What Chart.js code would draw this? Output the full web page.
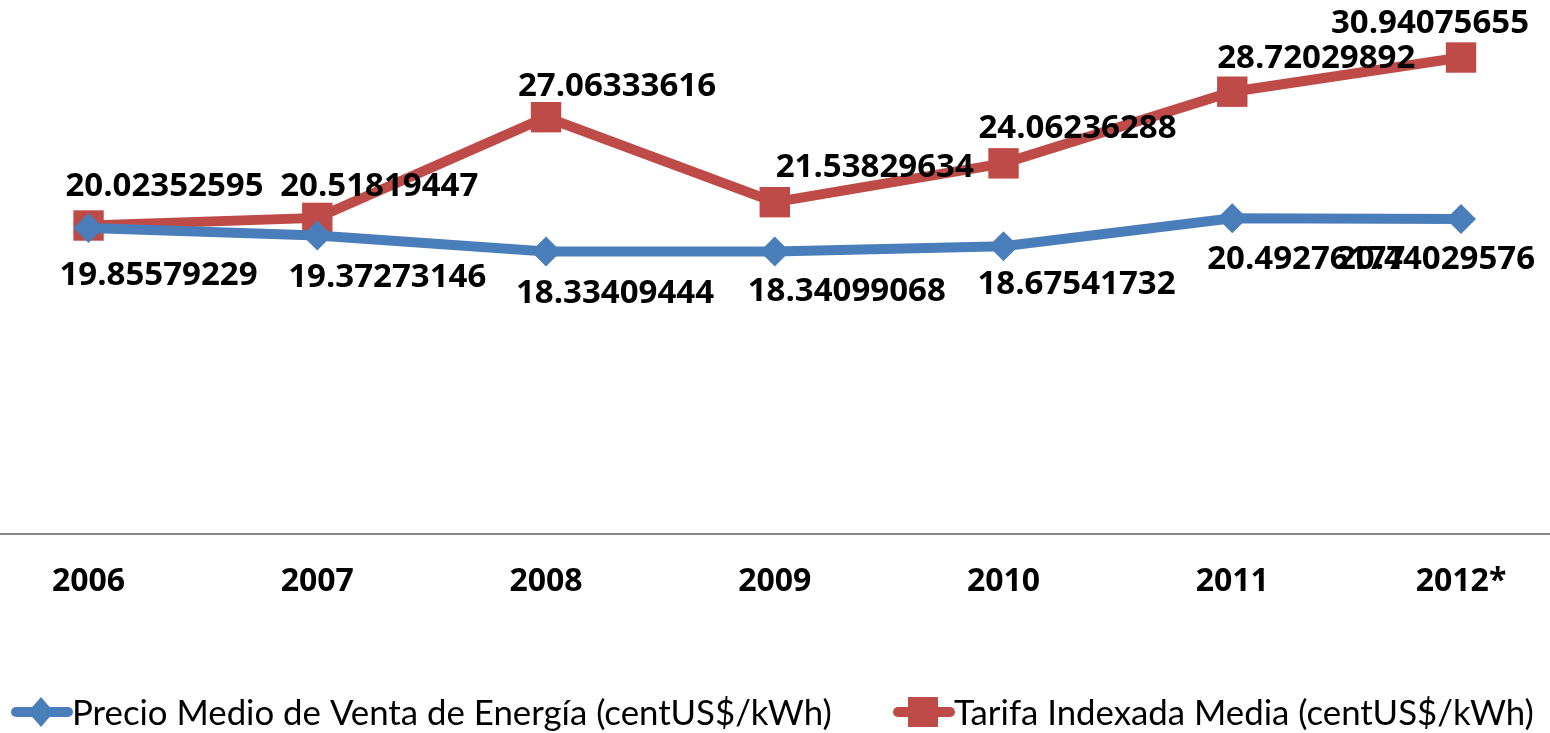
<!DOCTYPE html>
<html>
<head>
<meta charset="utf-8">
<script src="https://cdn.jsdelivr.net/npm/chart.js@4.4.1/dist/chart.umd.min.js"></script>
<style>
    html, body { margin: 0; padding: 0; background: #fff; }
    #wrap { width: 1550px; height: 733px; }
</style>
</head>
<body>
<div id="wrap"><canvas id="grafico"></canvas></div>
<script>
// Datos >>>>>>>>>>>>>>>>>>>>>>>>>>>>>>>>>>>>>>>>>>>>>>>>>>>>>>>>>>>>>>>>>>>>>>>>>>>>>>>
const anios = ["2006", "2007", "2008", "2009", "2010", "2011", "2012*"];
const precioMedio = [19.85579229, 19.37273146, 18.33409444, 18.34099068, 18.67541732, 20.49276177, 20.44029576];
const tarifaIndexada = [20.02352595, 20.51819447, 27.06333616, 21.53829634, 24.06236288, 28.72029892, 30.94075655];
const nombresSeries = [
    "Precio Medio de Venta de Energía (centUS$/kWh)",
    "Tarifa Indexada Media (centUS$/kWh)",
];

const AZUL = "#4A7EBB";
const ROJO = "#BE4B48";
const FUENTE = "Lato, 'Open Sans', sans-serif";
const FUENTE_NEGRITA = "'Open Sans', Lato, sans-serif";

// desplazamiento de cada etiqueta respecto a su punto (px), como en el original
const desplazAzul = [[70, 45], [70, 40], [69, 40], [72, 38], [73, 36], [74, 39], [-25, 38]];
const desplazRojo = [[76, -41], [62, -34], [71, -33], [100, -37], [74, -37], [84, -35], [-31, -36]];

// Etiquetas de datos (no hay plugin datalabels, se dibujan a mano)
const etiquetasPlugin = {
    id: "etiquetas",
    afterDatasetsDraw(chart) {
        const ctx = chart.ctx;
        ctx.save();
        ctx.font = "bold 33px " + FUENTE_NEGRITA;
        ctx.fillStyle = "#000";
        ctx.textAlign = "center";
        ctx.textBaseline = "alphabetic";
        chart.data.datasets.forEach((ds, i) => {
            const meta = chart.getDatasetMeta(i);
            const desp = i === 0 ? desplazAzul : desplazRojo;
            meta.data.forEach((pt, j) => {
                const txt = String(ds.data[j].y);
                ctx.fillText(txt, pt.x + desp[j][0], pt.y + desp[j][1] + 11.8);
            });
        });
        ctx.restore();
    },
};

// Leyenda: línea + marcador, igual que en Excel
const leyendaPlugin = {
    id: "leyenda",
    afterDraw(chart) {
        const ctx = chart.ctx;
        const xs = [11, 893];
        const y = 712;
        ctx.save();
        chart.data.datasets.forEach((ds, i) => {
            const x0 = xs[i];
            ctx.strokeStyle = ds.borderColor;
            ctx.lineWidth = 10;
            ctx.lineCap = "round";
            ctx.beginPath();
            ctx.moveTo(x0 + 5, y);
            ctx.lineTo(x0 + 57, y);
            ctx.stroke();
            ctx.fillStyle = ds.borderColor;
            ctx.beginPath();
            if (i === 0) {
                ctx.moveTo(x0 + 30, y - 15);
                ctx.lineTo(x0 + 43, y);
                ctx.lineTo(x0 + 30, y + 15);
                ctx.lineTo(x0 + 17, y);
                ctx.closePath();
            } else {
                ctx.rect(x0 + 15, y - 15, 30, 30);
            }
            ctx.fill();
            ctx.fillStyle = "#000";
            ctx.font = "34.8px " + FUENTE;
            ctx.textBaseline = "alphabetic";
            ctx.fillText(ds.label, x0 + 61, y + 13);
        });
        ctx.restore();
    },
};

const ctx = document.getElementById("grafico").getContext("2d");

new Chart(ctx, {
    type: "line",
    data: {
        datasets: [
            {
                label: nombresSeries[0],
                data: precioMedio.map((v, i) => ({ x: i, y: v })),
                borderColor: AZUL,
                backgroundColor: AZUL,
                borderWidth: 10,
                pointStyle: "rectRot",
                pointRadius: 15,
                pointBorderWidth: 0,
                tension: 0,
                clip: false,
            },
            {
                label: nombresSeries[1],
                data: tarifaIndexada.map((v, i) => ({ x: i, y: v })),
                borderColor: ROJO,
                backgroundColor: ROJO,
                borderWidth: 10,
                pointStyle: "rect",
                pointRadius: 21.5,
                pointBorderWidth: 0,
                tension: 0,
                clip: false,
            },
        ],
    },
    options: {
        responsive: true,
        maintainAspectRatio: false,
        animation: false,
        layout: {
            autoPadding: false,
            padding: { top: 0, left: 0, right: 0, bottom: 103 },
        },
        scales: {
            x: {
                type: "linear",
                min: -0.387,
                max: 6.389,
                grid: { display: false, drawTicks: false },
                border: { display: true, color: "#878787", width: 2 },
                ticks: {
                    stepSize: 1,
                    includeBounds: false,
                    autoSkip: false,
                    maxRotation: 0,
                    padding: 29,
                    color: "#000",
                    font: { family: FUENTE_NEGRITA, size: 32, weight: "bold" },
                    callback: (v) => (Number.isInteger(v) ? anios[v] : ""),
                },
            },
            y: {
                display: false,
                min: 0,
                max: 34.68,
            },
        },
        plugins: {
            legend: { display: false },
            tooltip: { enabled: false },
        },
    },
    plugins: [etiquetasPlugin, leyendaPlugin],
});
</script>
</body>
</html>
